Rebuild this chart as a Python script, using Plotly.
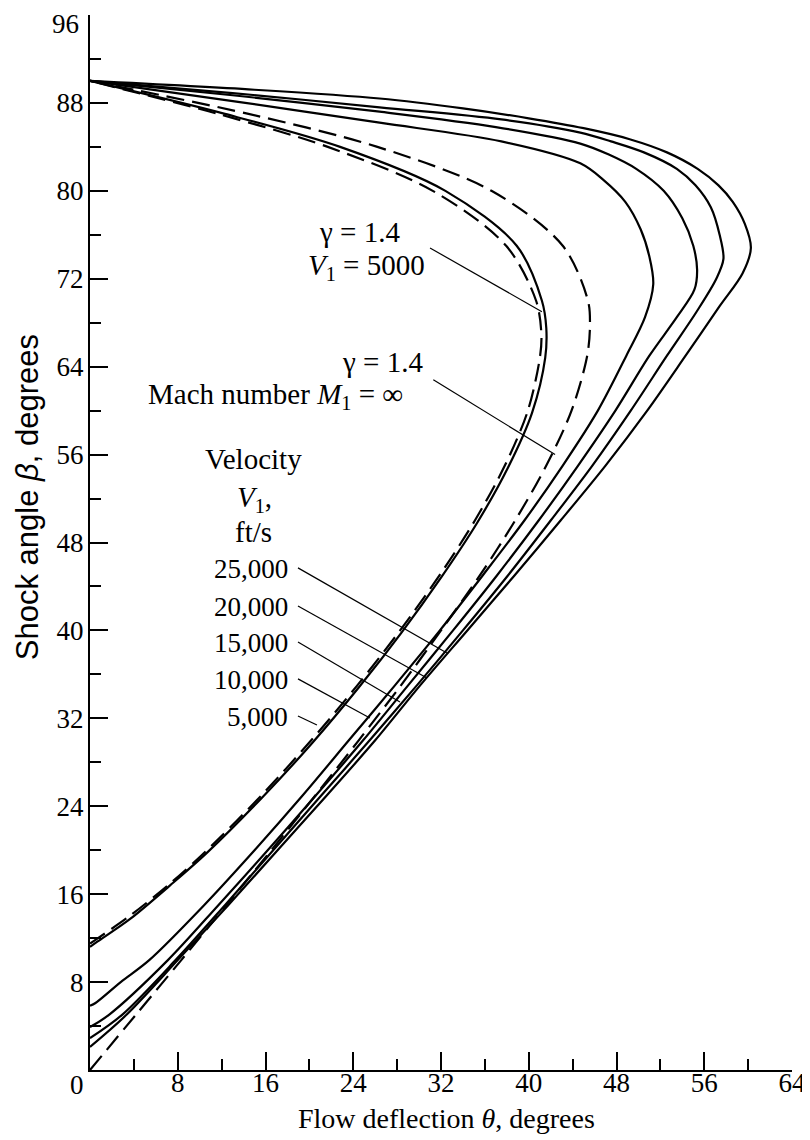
import plotly.graph_objects as go

# ---------------- data (theta = flow deflection, beta = shock angle, degrees) ----------------
theta_v5000 = [0, 0.7, 3.6, 7.3, 10.7, 15.7, 20.3, 24.5, 28.4, 32.0, 35.3, 38.1, 40.3, 41.5, 41.6, 41.2, 38.9, 32.4, 22.8, 12.3, 0]
beta_v5000 = [11.2, 11.7, 13.7, 16.8, 19.8, 24.8, 29.8, 34.8, 39.8, 44.8, 49.8, 54.8, 59.8, 64.8, 67.5, 70, 75, 80, 84, 87, 90]

theta_v10000 = [0, 0.5, 2.8, 5.4, 10.4, 15.0, 19.4, 23.6, 27.8, 31.9, 35.8, 39.6, 43.1, 46.3, 48.9, 50.6, 51.35, 51.0, 50.2, 48.8, 46.8, 44.7, 37.5, 26.4, 13.5, 0]
beta_v10000 = [5.85, 6.1, 8, 10, 15, 20, 25, 30, 35, 40, 45, 50, 55, 60, 65, 68.5, 71.5, 74, 76.5, 79, 81, 82.5, 84.5, 86.2, 88.1, 90]

theta_v15000 = [0, 1.7, 7.1, 11.7, 16.2, 20.6, 24.9, 29.0, 33.1, 37.1, 40.9, 44.5, 47.9, 51.0, 53.5, 55.1, 55.35, 55.0, 54.0, 52.3, 49.8, 47.3, 44.7, 37, 26.4, 13, 0]
beta_v15000 = [3.9, 5, 10, 15, 20, 25, 30, 35, 40, 45, 50, 55, 60, 65, 68.5, 71, 72.8, 75, 77.5, 80, 82, 83.3, 84.3, 85.8, 87.2, 88.7, 90]

theta_v20000 = [0, 2.9, 7.8, 12.3, 16.7, 21.1, 25.5, 29.8, 34.0, 38.1, 42.0, 45.8, 49.3, 52.6, 55.3, 57.1, 57.75, 57.4, 56.6, 55.2, 53.5, 50.5, 47.5, 44.7, 37.5, 26.4, 13, 0]
beta_v20000 = [2.9, 5, 10, 15, 20, 25, 30, 35, 40, 45, 50, 55, 60, 65, 69, 72, 73.8, 76, 78.5, 80.5, 82, 83.5, 84.5, 85.3, 86.5, 87.6, 88.9, 90]

theta_v25000 = [0, 3.3, 8.0, 12.6, 17.1, 21.6, 26.0, 30.1, 34.4, 38.7, 42.9, 47.0, 50.8, 54.3, 57.4, 59.5, 60.25, 59.7, 58.6, 57.3, 55.4, 52.6, 49.2, 45.0, 40, 34, 26.4, 15, 0]
beta_v25000 = [2.1, 5, 10, 15, 20, 25, 30, 35, 40, 45, 50, 55, 60, 65, 69.5, 72.5, 74.8, 77, 79, 80.5, 82, 83.5, 84.7, 85.7, 86.6, 87.5, 88.4, 89.2, 90]

# perfect gas gamma = 1.4, V1 = 5000 (dashed)
theta_g14_v5000 = [0, 0.73, 3.6, 7.34, 10.66, 15.64, 20.17, 24.37, 28.27, 31.86, 35.09, 37.82, 39.92, 41.04, 41.15, 40.67, 37.94, 31.25, 21.68, 11.67, 0]
beta_g14_v5000 = [11.5, 12, 14, 17, 20, 25, 30, 35, 40, 45, 50, 55, 60, 65, 67, 70, 75, 80, 84, 87, 90]

# perfect gas gamma = 1.4, M1 = infinity (dashed)
theta_g14_minf = [0, 4.16, 8.32, 12.44, 16.53, 20.56, 24.5, 28.35, 32.0, 35.54, 38.76, 41.6, 43.9, 45.33, 45.58, 45.4, 43.1, 36.6, 26.2, 14.45, 0]
beta_g14_minf = [0, 5, 10, 15, 20, 25, 30, 35, 40, 45, 50, 55, 60, 65, 67.8, 70, 75, 80, 84, 87, 90]

velocity_labels = ["25,000", "20,000", "15,000", "10,000", "5,000"]
x_ticks = [0, 8, 16, 24, 32, 40, 48, 56, 64]
y_ticks = [8, 16, 24, 32, 40, 48, 56, 64, 72, 80, 88, 96]

SERIF = "Liberation Serif, Times New Roman, serif"
SANS = "Liberation Sans, Arial, sans-serif"

fig = go.Figure()

solid_curves = [
    (theta_v5000, beta_v5000),
    (theta_v10000, beta_v10000),
    (theta_v15000, beta_v15000),
    (theta_v20000, beta_v20000),
    (theta_v25000, beta_v25000),
]
for tx, by in solid_curves:
    fig.add_trace(go.Scatter(x=tx, y=by, mode="lines",
                             line=dict(color="black", width=2.2, shape="spline", smoothing=0.9),
                             hoverinfo="skip"))

for tx, by in [(theta_g14_v5000, beta_g14_v5000), (theta_g14_minf, beta_g14_minf)]:
    fig.add_trace(go.Scatter(x=tx, y=by, mode="lines",
                             line=dict(color="black", width=2.2, dash="18px,8px",
                                       shape="spline", smoothing=0.9),
                             hoverinfo="skip"))

# ---------------- labels & leader lines ----------------
TXT = dict(family=SERIF, size=27, color="black")
TXT_W = dict(family=SERIF, size=29, color="black")

def label(x, y, text, xanchor="center", font=TXT):
    fig.add_annotation(x=x, y=y, xref="x", yref="y", text=text, showarrow=False,
                       font=font, xanchor=xanchor, yanchor="middle")

def leader(x0, y0, x1, y1):
    fig.add_shape(type="line", xref="x", yref="y", x0=x0, y0=y0, x1=x1, y1=y1,
                  line=dict(color="black", width=1.2))

label(24.6, 76.25, "γ = 1.4", font=TXT_W)
label(25.2, 73.1, "<i>V</i><sub>1</sub> = 5000", font=TXT_W)
leader(31.0, 74.8, 41.2, 69.0)

label(26.7, 64.4, "γ = 1.4", font=TXT_W)
label(16.9, 61.3, "Mach number <i>M</i><sub>1</sub> = ∞", font=TXT_W)
leader(31.3, 62.8, 42.4, 56.0)

label(14.95, 55.6, "Velocity", font=TXT_W)
label(15.0, 52.0, "<i>V</i><sub>1</sub>,", font=TXT_W)
label(14.95, 48.95, "ft/s", font=TXT_W)

vel_label_beta = [45.59, 42.13, 38.85, 35.49, 32.12]
vel_leader_end = [(32.54, 37.94), (30.72, 35.67), (28.26, 33.49), (25.52, 32.03), (20.69, 31.39)]
for txt, yb, (ex, ey) in zip(velocity_labels, vel_label_beta, vel_leader_end):
    label(18.23, yb, txt, xanchor="right")
    leader(18.96, yb + 0.1, ex, ey)

# axis titles
fig.add_annotation(x=-0.0897, y=0.543, xref="paper", yref="paper", textangle=-90,
                   text="Shock angle <i>β</i>, degrees", showarrow=False,
                   font=dict(family=SANS, size=31, color="black"),
                   xanchor="center", yanchor="middle")
fig.add_annotation(x=0.5085, y=-0.0455, xref="paper", yref="paper",
                   text="Flow deflection <i>θ</i>, degrees", showarrow=False,
                   font=dict(family=SERIF, size=28, color="black"),
                   xanchor="center", yanchor="middle")
# shared origin label and the top y label (kept inside the page)
fig.add_annotation(x=-0.0185, y=-0.0142, xref="paper", yref="paper", text="0",
                   showarrow=False, font=TXT, xanchor="center", yanchor="middle")
fig.add_annotation(x=-0.0143, y=0.9915, xref="paper", yref="paper", text=str(y_ticks[-1]),
                   showarrow=False, font=TXT, xanchor="right", yanchor="middle", borderpad=0)

fig.update_xaxes(range=[0, 64], tickmode="array", tickvals=x_ticks,
                 ticktext=[""] + [str(v) for v in x_ticks[1:]],
                 ticks="inside", ticklen=18, tickwidth=2, tickcolor="black",
                 minor=dict(dtick=4, ticks="inside", ticklen=11, tickwidth=2, tickcolor="black"),
                 showline=True, linewidth=2, linecolor="black", mirror=False,
                 showgrid=False, zeroline=False, ticklabelstandoff=-12, automargin=False,
                 ticklabeloverflow="allow",
                 tickfont=dict(family=SERIF, size=27, color="black"))
fig.update_yaxes(range=[0, 96], tickmode="array", tickvals=y_ticks,
                 ticktext=[str(v) for v in y_ticks[:-1]] + [""],
                 ticks="inside", ticklen=18, tickwidth=2, tickcolor="black",
                 minor=dict(dtick=4, ticks="inside", ticklen=11, tickwidth=2, tickcolor="black"),
                 showline=True, linewidth=2, linecolor="black", mirror=False,
                 showgrid=False, zeroline=False, ticklabelstandoff=-1, automargin=False,
                 tickfont=dict(family=SERIF, size=27, color="black"))

# the page body adds an 8 px offset, so the figure is 8 px smaller and margins compensate
fig.update_layout(width=802, height=1132, showlegend=False,
                  margin=dict(l=82, r=18, t=7, b=70, autoexpand=False),
                  paper_bgcolor="white", plot_bgcolor="white")

fig.write_html("out.html")
